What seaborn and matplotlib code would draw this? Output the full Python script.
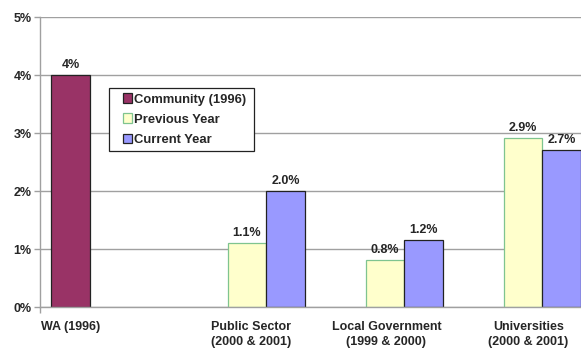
import matplotlib
matplotlib.use("Agg")
import matplotlib.pyplot as plt
from matplotlib.patches import Patch, Rectangle
from matplotlib.legend_handler import HandlerPatch
from matplotlib.ticker import FuncFormatter
import pandas as pd
import seaborn as sns

# Chart data (percent)
categories = [
    "WA (1996)",
    "Public Sector\n(2000 & 2001)",
    "Local Government\n(1999 & 2000)",
    "Universities\n(2000 & 2001)",
]
series = ["Community (1996)", "Previous Year", "Current Year"]
community = [4.0, None, None, None]
previous = [None, 1.1, 0.81, 2.91]
current = [None, 2.0, 1.16, 2.71]
label_formats = ["{:.0f}%", "{:.1f}%", "{:.1f}%"]

fill_colors = ["#993366", "#FFFFCC", "#9999FF"]
edge_colors = ["#222222", "#7FC48F", "#222222"]

rows = []
for name, values in zip(series, [community, previous, current]):
    for cat, v in zip(categories, values):
        if v is not None:
            rows.append({"category": cat, "series": name, "value": v})
df = pd.DataFrame(rows)

sns.set_style("white")
plt.rcParams["font.family"] = ["Liberation Sans", "DejaVu Sans"]
plt.rcParams["font.weight"] = "bold"

fig = plt.figure(figsize=(5.81, 3.49), dpi=100)
ax = fig.add_axes([40 / 581, 42 / 349, 541 / 581, 290 / 349])

sns.barplot(
    data=df, x="category", y="value", hue="series",
    order=categories, hue_order=series, palette=fill_colors,
    saturation=1, width=0.837, linewidth=0.9, legend=False, ax=ax,
)

for container, edge, fmt in zip(ax.containers, edge_colors, label_formats):
    for bar in container:
        bar.set_edgecolor(edge)
    ax.bar_label(
        container,
        labels=[fmt.format(v) for v in container.datavalues],
        padding=3, fontsize=9, fontweight="bold",
    )

ax.set_xlim(-0.5, 3.42)
ax.set_ylim(0, 5)
ax.set_yticks(range(0, 6))
ax.yaxis.set_major_formatter(FuncFormatter(lambda v, p: f"{v:.0f}%"))

first_bar = ax.containers[0][0]
wa_center = first_bar.get_x() + first_bar.get_width() / 2
ax.set_xticks([wa_center, 1.03, 2.01, 3.04])
ax.set_xticklabels(categories, fontsize=9, fontweight="bold", linespacing=1.3)
ax.set_xticks([-0.5], minor=True)
ax.set_xlabel("")
ax.set_ylabel("")

grid_color = "#a0a0a0"
ax.yaxis.grid(True, color=grid_color, linewidth=1)
ax.set_axisbelow(True)
for side in ["top", "right"]:
    ax.spines[side].set_visible(False)
for side in ["left", "bottom"]:
    ax.spines[side].set_color(grid_color)
    ax.spines[side].set_linewidth(1)

ax.tick_params(axis="y", length=4, width=1, color=grid_color, pad=2,
               labelsize=9, left=True)
ax.tick_params(axis="x", which="major", length=0, pad=10)
ax.tick_params(axis="x", which="minor", length=4, width=1, color=grid_color,
               bottom=True)
for lbl in ax.get_yticklabels():
    lbl.set_fontweight("bold")


def square_key(legend, orig_handle, xdescent, ydescent, width, height, fontsize):
    # small square key placed at the right end of the handle box
    return Rectangle((-xdescent + width - height, -ydescent), height, height)


handles = [Patch(facecolor=f, edgecolor=e, linewidth=0.9)
           for f, e in zip(fill_colors, edge_colors)]
leg = ax.legend(
    handles, [s + " " for s in series], loc="upper left",
    bbox_to_anchor=(0.1275, 0.755),
    borderaxespad=0, frameon=True, fancybox=False, framealpha=1,
    edgecolor="#222222", handlelength=1.4, handleheight=0.75,
    handletextpad=0.08, borderpad=0.4, labelspacing=0.6,
    prop={"weight": "bold", "size": 9.4},
    handler_map={Patch: HandlerPatch(patch_func=square_key)},
)
leg.get_frame().set_linewidth(0.9)

fig.savefig("out.png", dpi=100, facecolor="white")
